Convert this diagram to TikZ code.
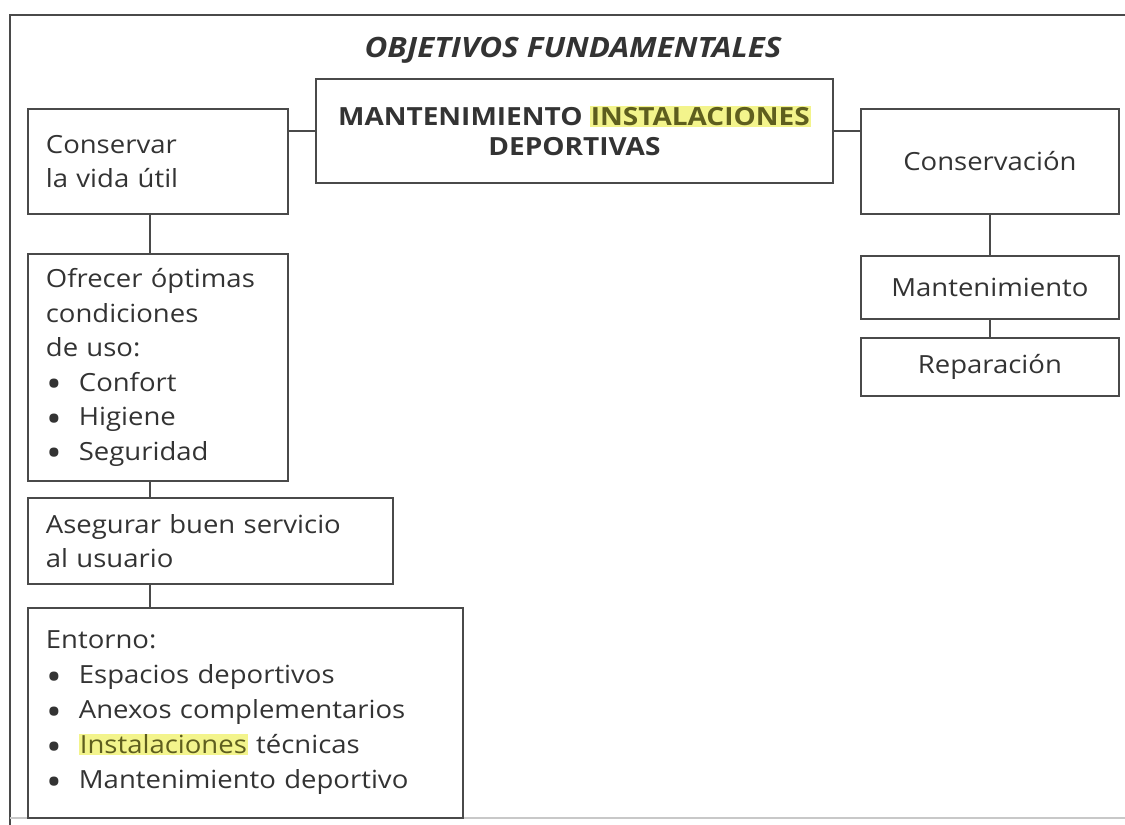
\documentclass[tikz,border=0pt]{standalone}
\usepackage{fontspec}
\setmainfont{Open Sans}[FakeStretch=1.1]
\newfontfamily\headfont{Open Sans}[FakeStretch=1.12]
\definecolor{ink}{HTML}{333333}
\definecolor{rule}{HTML}{4A4A4A}
\definecolor{faint}{HTML}{C8C8C8}
\definecolor{hl}{HTML}{F3F48C}
\definecolor{hlink}{HTML}{5E5E1E}
\newcommand{\hlword}[1]{{\setlength{\fboxsep}{1pt}\colorbox{hl}{\textcolor{hlink}{#1}}}}
\newcommand{\bul}{\makebox[33pt][l]{\hspace{1pt}\raisebox{-6.5pt}[0pt][0pt]{\fontsize{38}{34}\selectfont\textbullet}}}
\begin{document}
\begin{tikzpicture}[x=1pt,y=-1pt,
  box/.style={draw=rule, line width=1.8pt, rectangle, inner ysep=0pt,
    text=ink, font=\fontsize{25}{34.5}\selectfont},
  lbox/.style n args={2}{box, anchor=north west, inner xsep=18pt,
    minimum width=#1, minimum height=#2, text width=#1-36pt, align=left},
  cbox/.style n args={2}{box, anchor=north west,
    minimum width=#1, minimum height=#2, align=center},
  link/.style={draw=rule, line width=1.8pt}]
\useasboundingbox (0,0) rectangle (1125,825);

% outer frame
\draw[rule, line width=2pt] (1125,15) -- (10,15) -- (10,825);
\draw[faint, line width=1.2pt] (10,818) -- (1125,818);

% title
\node[text=ink, font=\headfont\bfseries\itshape\fontsize{28}{30}\selectfont] (title) at (573,50) {OBJETIVOS FUNDAMENTALES};

% central box
\node[cbox={517pt}{104pt}, font=\headfont\bfseries\fontsize{25}{30}\selectfont] (main) at (315,78)
  {MANTENIMIENTO \hlword{INSTALACIONES}\\DEPORTIVAS};

% left column
\node[lbox={260pt}{105pt}] (vida) at (27,108) {Conservar\\la vida útil};
\node[lbox={260pt}{227pt}] (ofrecer) at (27,253)
  {Ofrecer óptimas\\condiciones\\de uso:\\\bul Confort\\\bul Higiene\\\bul Seguridad};
\node[lbox={365pt}{86pt}] (asegurar) at (27,497) {Asegurar buen servicio\\al usuario};
\node[lbox={435pt}{210pt}, font=\fontsize{25}{35}\selectfont] (entorno) at (27,607)
  {Entorno:\\\bul Espacios deportivos\\\bul Anexos complementarios\\\bul \hlword{Instalaciones} técnicas\\\bul Mantenimiento deportivo};

% right column
\node[cbox={258pt}{105pt}] (conserv) at (860,108) {Conservación};
\node[cbox={258pt}{63pt}] (manten) at (860,255) {Mantenimiento};
\node[cbox={258pt}{58pt}] (repar) at (860,337) {Reparación};

% connectors
\coordinate (spine) at (150,0);
\draw[link] (main.west) -- (main.west -| vida.east);
\draw[link] (main.east) -- (main.east -| conserv.west);
\draw[link] (vida.south -| spine) -- (ofrecer.north -| spine);
\draw[link] (ofrecer.south -| spine) -- (asegurar.north -| spine);
\draw[link] (asegurar.south -| spine) -- (entorno.north -| spine);
\draw[link] (conserv.south) -- (manten.north);
\draw[link] (manten.south) -- (repar.north);
\end{tikzpicture}
\end{document}
